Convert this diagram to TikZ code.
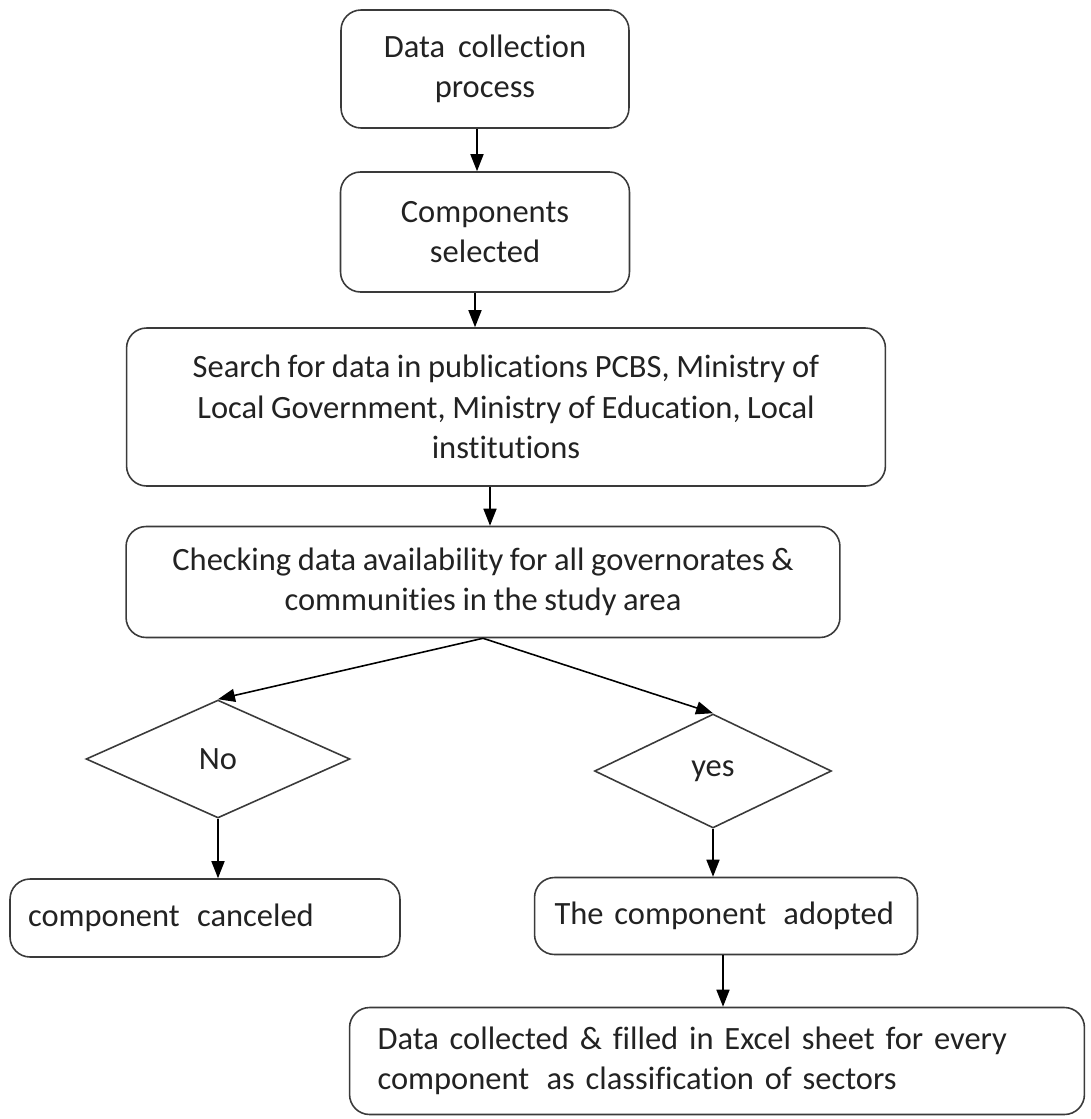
\documentclass[tikz,border=0pt]{standalone}
\usepackage{fontspec}
\setmainfont[Ligatures=NoCommon,WordSpace=0.9]{Carlito}
\usetikzlibrary{shapes.geometric,arrows.meta}
\definecolor{edge}{HTML}{3A3A3A}
\definecolor{ink}{HTML}{222222}
\begin{document}
\begin{tikzpicture}[x=0.02cm,y=-0.02cm,
  box/.style={draw=edge,line width=0.9pt,rounded corners=0.4cm,align=center,
    text=ink,font=\fontsize{18.5}{23}\selectfont,inner sep=0pt},
  lbox/.style={box,align=left,anchor=center},
  choice/.style={draw=edge,line width=0.9pt,diamond,inner sep=0pt,text=ink,
    font=\fontsize{18.5}{23}\selectfont},
  arr/.style={draw=black,line width=0.9pt,-{Triangle[length=0.34cm,width=0.26cm]}}]
\useasboundingbox (0,0) rectangle (1091,1119);
\node[box,minimum width=5.76cm,minimum height=2.36cm] (collect) at (485,69)
  {Data\hspace{0.4em}collection\\process};
\node[box,minimum width=5.78cm,minimum height=2.4cm] (select) at (485,232)
  {Components\\selected};
\node[box,minimum width=15.18cm,minimum height=3.16cm] (search) at (506,407)
  {Search for data in publications PCBS, Ministry of\\
   Local Government, Ministry of Education, Local\\institutions};
\node[box,minimum width=14.28cm,minimum height=2.22cm] (check) at (483,582)
  {Checking data availability for all governorates \&\\
   communities in the study area};
\node[choice,minimum width=5.28cm,minimum height=2.36cm] (no) at (218,759) {No};
\node[choice,minimum width=4.74cm,minimum height=2.28cm] (yes) at (713,771) {yes};
\node[lbox,text width=7.08cm,inner xsep=0.36cm,minimum height=1.56cm] (cancel) at (205,918)
  {component\hspace{0.2em} canceled};
\node[lbox,text width=6.86cm,inner xsep=0.4cm,minimum height=1.54cm] (adopt) at (726,916)
  {The component\hspace{0.2em} adopted};
\node[lbox,text width=13.58cm,inner xsep=0.56cm,minimum height=2.14cm] (final) at (717,1061)
  {Data collected \& filled in Excel sheet for every\\
   component\hspace{0.2em} as classification of sectors};
\draw[arr] ([xshift=-0.16cm]collect.south) -- ([xshift=-0.16cm]collect.south |- select.north);
\draw[arr] ([xshift=-0.2cm]select.south) -- ([xshift=-0.2cm]select.south |- search.north);
\draw[arr] ([xshift=0.14cm]check.north |- search.south) -- ([xshift=0.14cm]check.north);
\draw[arr] (check.south) -- (no.north);
\draw[arr] (check.south) -- (yes.north);
\draw[arr] (no.south) -- (no.south |- cancel.north);
\draw[arr] (yes.south) -- (yes.south |- adopt.north);
\draw[arr] ([xshift=-0.06cm]adopt.south) -- ([xshift=-0.06cm]adopt.south |- final.north);
\end{tikzpicture}
\end{document}
